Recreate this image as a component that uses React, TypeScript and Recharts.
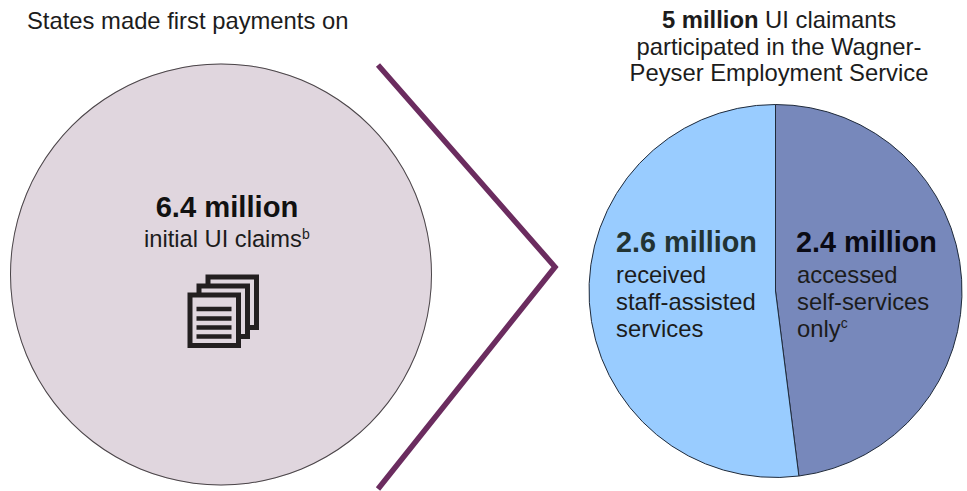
import { Pie, PieChart } from "recharts";

// First payments on initial claims (millions)
const claimNames = ["Initial UI claims"];
const claimValues = [6.4];

// Wagner-Peyser participants by service type (millions)
const serviceNames = ["Accessed self-services only", "Received staff-assisted services"];
const serviceValues = [2.4, 2.6];
const serviceColors = ["#7788BB", "#99CCFF"];

const claimData = claimNames.map((name, i) => ({ name, value: claimValues[i], fill: "#E0D6DE" }));
const claimRing = claimNames.map((name, i) => ({ name, value: claimValues[i], fill: "#4a4548" }));
const serviceData = serviceNames.map((name, i) => ({
  name,
  value: serviceValues[i],
  fill: serviceColors[i],
}));

const FONT = '"Liberation Sans", Arial, sans-serif';
const INK = "#1c1c1c";

// Stacked pages icon, back sheet first
function PagesIcon() {
  const offsets = [18, 9, 0];
  const lines = [309, 318.5, 327.5, 336.5];
  return (
    <g>
      {offsets.map((d) => (
        <rect
          key={d}
          x={190 + d}
          y={295 - d}
          width={48.5}
          height={50.5}
          fill="#E0D6DE"
          stroke="#231f20"
          strokeWidth={5}
        />
      ))}
      {lines.map((y) => (
        <line key={y} x1={196.5} x2={231.5} y1={y} y2={y} stroke="#231f20" strokeWidth={4.5} />
      ))}
    </g>
  );
}

export default function App() {
  return (
    <div style={{ position: "absolute", left: 0, top: 0, width: 967, height: 491, background: "#fff" }}>
      <PieChart width={967} height={491} margin={{ top: 0, right: 0, bottom: 0, left: 0 }}>
        <Pie
          data={claimData}
          dataKey="value"
          nameKey="name"
          cx={221}
          cy={274.5}
          outerRadius={211}
          innerRadius={0}
          startAngle={90}
          endAngle={-270}
          stroke="none"
          isAnimationActive={false}
        />
        {/* a closed outline: a stroked full slice would show its seam */}
        <Pie
          data={claimRing}
          dataKey="value"
          nameKey="name"
          cx={221}
          cy={274.5}
          outerRadius={211}
          innerRadius={210}
          startAngle={90}
          endAngle={-270}
          stroke="none"
          isAnimationActive={false}
        />
        <Pie
          data={serviceData}
          dataKey="value"
          nameKey="name"
          cx={775.5}
          cy={291}
          outerRadius={186.5}
          innerRadius={0}
          startAngle={90}
          endAngle={-270}
          stroke="#1f2a3a"
          strokeWidth={1}
          isAnimationActive={false}
        />
      </PieChart>

      {/* annotations sit above the pies */}
      <svg
        width={967}
        height={491}
        style={{ position: "absolute", left: 0, top: 0, pointerEvents: "none" }}
      >
        <polyline
          points="378,65 555,267 378,489"
          fill="none"
          stroke="#6B2C5F"
          strokeWidth={5.5}
        />

        <g fontFamily={FONT} fill={INK}>
          <text x={27} y={29} fontSize={23.8}>States made first payments on</text>

          <text x={227} y={217} fontSize={29.2} fontWeight="bold" textAnchor="middle" fill="#111">6.4 million</text>
          <text x={144} y={247} fontSize={23.7}>
            initial UI claims
            <tspan fontSize={14} dy={-8}>b</tspan>
          </text>

          <text x={779} y={28} fontSize={23.8} textAnchor="middle">
            <tspan fontWeight="bold">5 million</tspan> UI claimants
          </text>
          <text x={779} y={55} fontSize={23.8} textAnchor="middle">participated in the Wagner-</text>
          <text x={779} y={81} fontSize={23.8} textAnchor="middle">Peyser Employment Service</text>

          <text x={616} y={252} fontSize={28.8} fontWeight="bold" fill="#223333">2.6 million</text>
          <text x={616} y={283} fontSize={23.8}>received</text>
          <text x={616} y={310} fontSize={23.8}>staff-assisted</text>
          <text x={616} y={337} fontSize={23.8}>services</text>

          <text x={796} y={252} fontSize={28.8} fontWeight="bold" fill="#0a0a14">2.4 million</text>
          <text x={797} y={283} fontSize={23.8}>accessed</text>
          <text x={797} y={310} fontSize={23.8}>self-services</text>
          <text x={797} y={337} fontSize={23.8}>
            only
            <tspan fontSize={14} dy={-9}>c</tspan>
          </text>
        </g>

        <PagesIcon />
      </svg>
    </div>
  );
}
